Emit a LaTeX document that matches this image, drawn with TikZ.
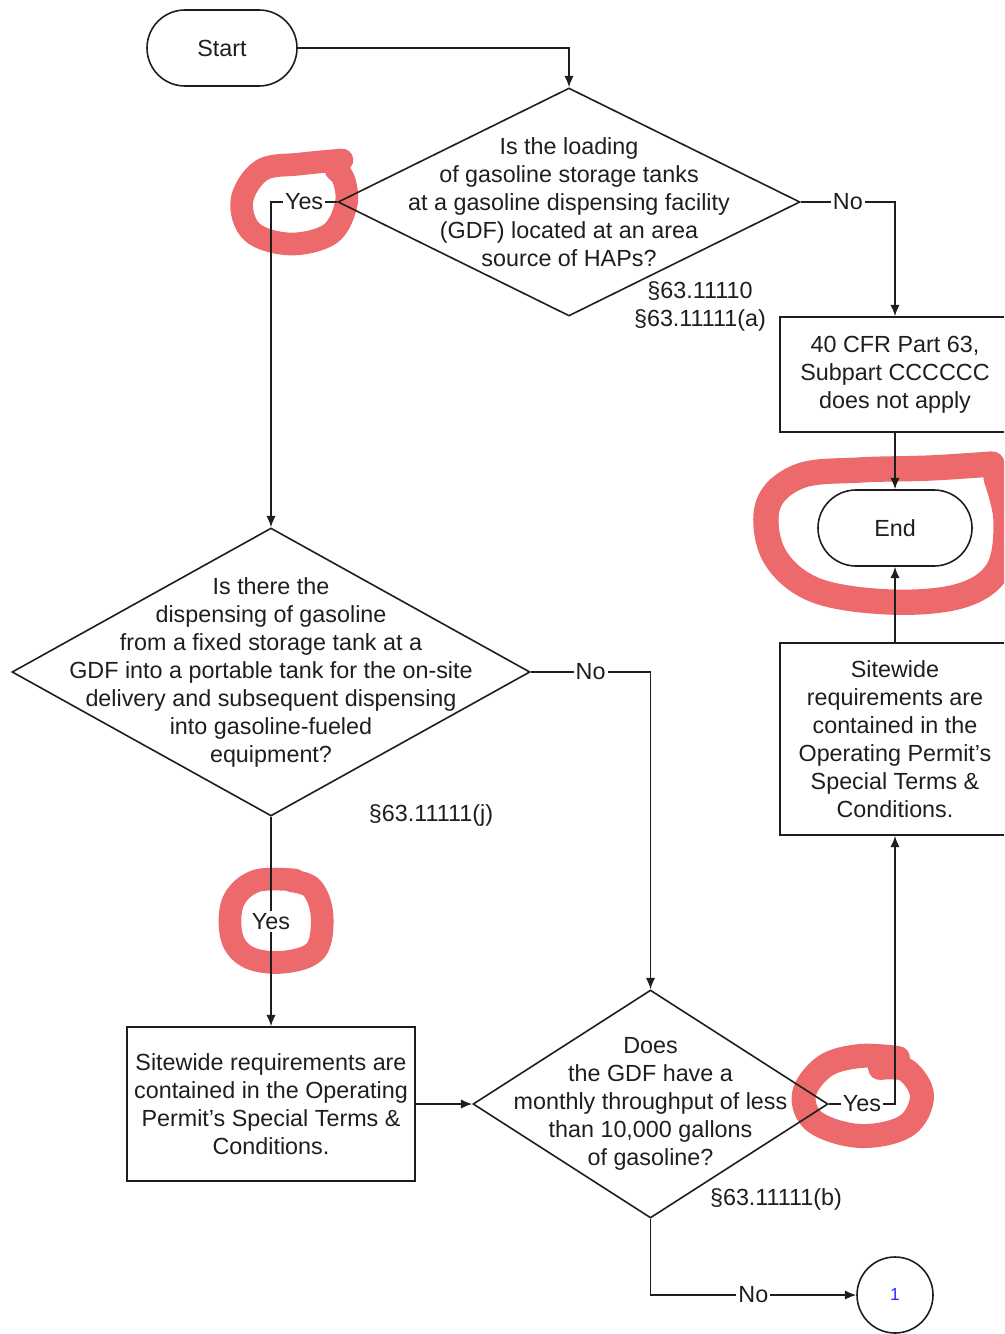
\documentclass[tikz,border=0pt]{standalone}
\usepackage{fontspec}
\setmainfont{Liberation Sans}
\usetikzlibrary{shapes.geometric,shapes.misc,arrows.meta}
\definecolor{mark}{RGB}{236,106,108}
\definecolor{numblue}{RGB}{40,40,255}
\definecolor{ink}{RGB}{30,30,30}
\begin{document}
\begin{tikzpicture}[x=0.75pt,y=-0.75pt,
  every node/.style={font=\fontsize{17.5}{21}\selectfont, text=ink},
  line/.style={draw=ink, line width=1.2pt},
  arr/.style={line, -{Latex[length=8.5pt,width=7pt]}},
  term/.style={rounded rectangle, draw=ink, line width=1.2pt, minimum height=57pt, inner sep=0pt},
  dia/.style={diamond, draw=ink, line width=1.2pt, inner sep=0pt},
  proc/.style={rectangle, draw=ink, line width=1.2pt, inner sep=0pt, align=center},
  txt/.style={align=center, inner sep=0pt},
  lbl/.style={fill=white, inner sep=1.5pt},
  ref/.style={align=center, inner sep=0pt},
  ring/.style={draw=mark, line width=17pt, line cap=round, line join=round}
]
\useasboundingbox (0,0) rectangle (1004,1334);
\clip (0,0) rectangle (1004,1334);

% hand-drawn red marks
\draw[ring] plot[smooth, tension=0.6] coordinates {(342,160) (300,164) (262,170) (242,200) (252,232) (290,244) (330,234) (346,205) (344,180) (336,170)};
\draw[ring, line width=19pt] plot[smooth, tension=0.6] coordinates {(992,464) (930,468) (860,470) (800,476) (768,505) (774,555) (815,590) (890,602) (960,596) (998,570) (1006,520) (996,478)};
\draw[ring] plot[smooth, tension=0.6] coordinates {(295,880) (256,881) (233,902) (232,938) (250,958) (285,962) (316,950) (322,915) (312,888) (292,881)};
\draw[ring, line width=18pt] plot[smooth, tension=0.6] coordinates {(880,1068) (906,1070) (922,1096) (906,1126) (860,1136) (815,1122) (804,1094) (825,1066) (860,1056) (898,1058)};

% nodes
\node[term, minimum width=112.5pt] (start) at (222,48) {Start};
\node[dia, minimum width=346.5pt, minimum height=171pt] (q1) at (569,202) {};
\node[txt] (q1t) at (q1.center) {Is the loading\\of gasoline storage tanks\\at a gasoline dispensing facility\\(GDF) located at an area\\source of HAPs?};
\node[ref] (r1) at (700,306) {§63.11110\\§63.11111(a)};
\node[proc, minimum width=172.5pt, minimum height=86.25pt] (na) at (895,374.5) {40 CFR Part 63,\\Subpart CCCCCC\\does not apply};
\node[term, minimum width=115.5pt] (end) at (895,528) {End};
\node[proc, minimum width=172.5pt, minimum height=144pt] (sw1) at (895,739) {Sitewide\\requirements are\\contained in the\\Operating Permit's\\Special Terms \&\\Conditions.};
\node[dia, minimum width=388.5pt, minimum height=216pt] (q2) at (271,672) {};
\node[txt] (q2t) at (q2.center) {Is there the\\dispensing of gasoline\\from a fixed storage tank at a\\GDF into a portable tank for the on-site\\delivery and subsequent dispensing\\into gasoline-fueled\\equipment?};
\node[ref] (r2) at (431,815) {§63.11111(j)};
\node[proc, minimum width=216pt, minimum height=115.5pt] (sw2) at (271,1104) {Sitewide requirements are\\contained in the Operating\\Permit's Special Terms \&\\Conditions.};
\node[dia, minimum width=266.25pt, minimum height=171pt] (q3) at (650.5,1104) {};
\node[txt] (q3t) at (q3.center) {Does\\the GDF have a\\monthly throughput of less\\than 10,000 gallons\\of gasoline?};
\node[ref] (r3) at (776,1199) {§63.11111(b)};
\node[circle, draw=ink, line width=1.2pt, minimum size=57pt, inner sep=0pt, text=numblue, font=\fontsize{13}{15}\selectfont] (c1) at (895,1295) {1};

% connectors
\draw[arr] (start.east) -| (q1.north);
\draw[arr] (q1.west) -| (q2.north) node[lbl, pos=0.25] {Yes};
\draw[arr] (q1.east) -| (na.north) node[lbl, pos=0.25] {No};
\draw[arr] (na.south) -- (end.north);
\draw[arr] (sw1.north) -- (end.south);
\draw[arr] (q2.east) -| (q3.north) node[lbl, pos=0.25] {No};
\draw[arr] (q2.south) -- (sw2.north) node[lbl, pos=0.5] {Yes};
\draw[arr] (sw2.east) -- (q3.west);
\draw[arr] (q3.east) -| (sw1.south) node[lbl, pos=0.25] {Yes};
\draw[arr] (q3.south) |- (c1.west) node[lbl, pos=0.75] {No};
\end{tikzpicture}
\end{document}
